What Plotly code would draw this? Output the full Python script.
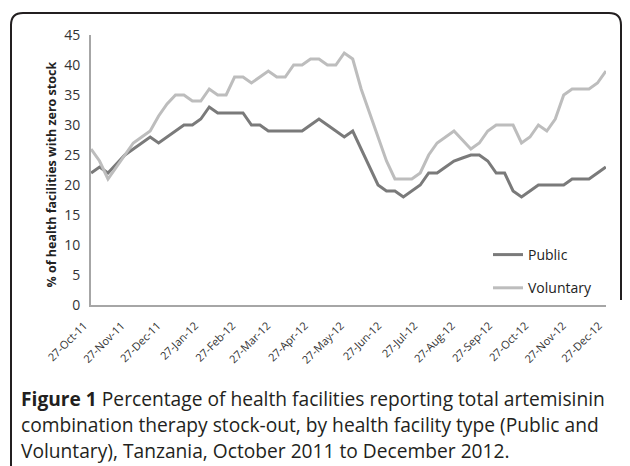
import plotly.graph_objects as go
import pandas as pd

start_date = "2011-10-27"
n_weeks = 62
week_dates = pd.date_range(start=start_date, periods=n_weeks, freq="7D")

public = [22, 23, 22, 23.5, 25, 26, 27, 28, 27, 28, 29, 30, 30, 31, 33, 32, 32, 32, 32, 30,
          30, 29, 29, 29, 29, 29, 30, 31, 30, 29, 28, 29, 26, 23, 20, 19, 19, 18, 19, 20,
          22, 22, 23, 24, 24.5, 25, 25, 24, 22, 22, 19, 18, 19, 20, 20, 20, 20, 21, 21, 21,
          22, 23]
voluntary = [26, 24, 21, 23, 25, 27, 28, 29, 31.5, 33.5, 35, 35, 34, 34, 36, 35, 35, 38, 38, 37,
             38, 39, 38, 38, 40, 40, 41, 41, 40, 40, 42, 41, 36, 32, 28, 24, 21, 21, 21, 22,
             25, 27, 28, 29, 27.5, 26, 27, 29, 30, 30, 30, 27, 28, 30, 29, 31, 35, 36, 36, 36,
             37, 39]

tick_dates = pd.date_range(start="2011-10-01", periods=15, freq="MS") + pd.Timedelta(days=26)
tick_labels = [d.strftime("%-d-%b-%y") for d in tick_dates]

FONT = "Open Sans"
W, H = 630, 466
L, R, T, B = 91, 24, 35, 161
pw, ph = W - L - R, H - T - B

def px(x):
    return (x - L) / pw

def py(y):
    return (H - B - y) / ph

fig = go.Figure()
fig.add_trace(go.Scatter(x=week_dates, y=public, mode="lines", name="Public",
                         legendgroup="a",
                         line=dict(color="#7a7a7a", width=3)))
fig.add_trace(go.Scatter(x=week_dates, y=voluntary, mode="lines", name="Voluntary",
                         legendgroup="b",
                         line=dict(color="#bdbdbd", width=3)))

x_start = week_dates[0] - pd.Timedelta(hours=2)
x_end = week_dates[-1] + pd.Timedelta(hours=2)

fig.update_layout(
    width=W, height=H,
    margin=dict(l=L, r=R, t=T, b=B),
    paper_bgcolor="white", plot_bgcolor="white",
    font=dict(family=FONT, color="#333333"),
    showlegend=True,
    legend=dict(x=px(488), y=py(239), xanchor="left", yanchor="top",
                font=dict(size=14, family=FONT, color="#222222"),
                tracegroupgap=12, itemwidth=30, bgcolor="rgba(0,0,0,0)",
                traceorder="grouped"),
    xaxis=dict(type="date", range=[x_start, x_end],
               tickvals=list(tick_dates), ticktext=tick_labels, tickangle=-45,
               ticklabelshift=-7, ticklabelstandoff=8,
               showgrid=False, zeroline=False, showline=True, linecolor="#a6a6a6",
               linewidth=2, ticks="", tickfont=dict(size=11, family=FONT, color="#333333")),
    yaxis=dict(range=[0, 45], dtick=5, tick0=0, showgrid=False, zeroline=False,
               showline=True, linecolor="#a6a6a6", linewidth=2, ticks="",
               ticklabelstandoff=6,
               tickfont=dict(size=14, family=FONT, color="#333333")),
)

fig.add_annotation(text="<b>% of health facilities with zero stock</b>",
                   xref="paper", yref="paper", x=px(40), y=py(175), textangle=-90,
                   showarrow=False, font=dict(size=12.5, family=FONT, color="#222222"))

caption = [
    "<b>Figure 1</b> Percentage of health facilities reporting total artemisinin",
    "combination therapy stock-out, by health facility type (Public and",
    "Voluntary), Tanzania, October 2011 to December 2012.",
]
for i, line in enumerate(caption):
    fig.add_annotation(text=line, xref="paper", yref="paper", x=px(19), y=py(398 + 26 * i),
                       xanchor="left", yanchor="middle", showarrow=False,
                       font=dict(size=19.2, family=FONT, color="#231f20"))

x0, x1, y0, yb, r = px(11), px(621), py(13), py(466), 12
rx, ry = r / pw, r / ph
path = (f"M {x0} {yb} L {x0} {y0 - ry} Q {x0} {y0} {x0 + rx} {y0} "
        f"L {x1 - rx} {y0} Q {x1} {y0} {x1} {y0 - ry} L {x1} {py(300)}")
fig.add_shape(type="path", path=path, xref="paper", yref="paper",
              line=dict(color="#231f20", width=2))

fig.write_html("out.html", config={"displayModeBar": False},
               post_script="document.body.style.margin='0';")
